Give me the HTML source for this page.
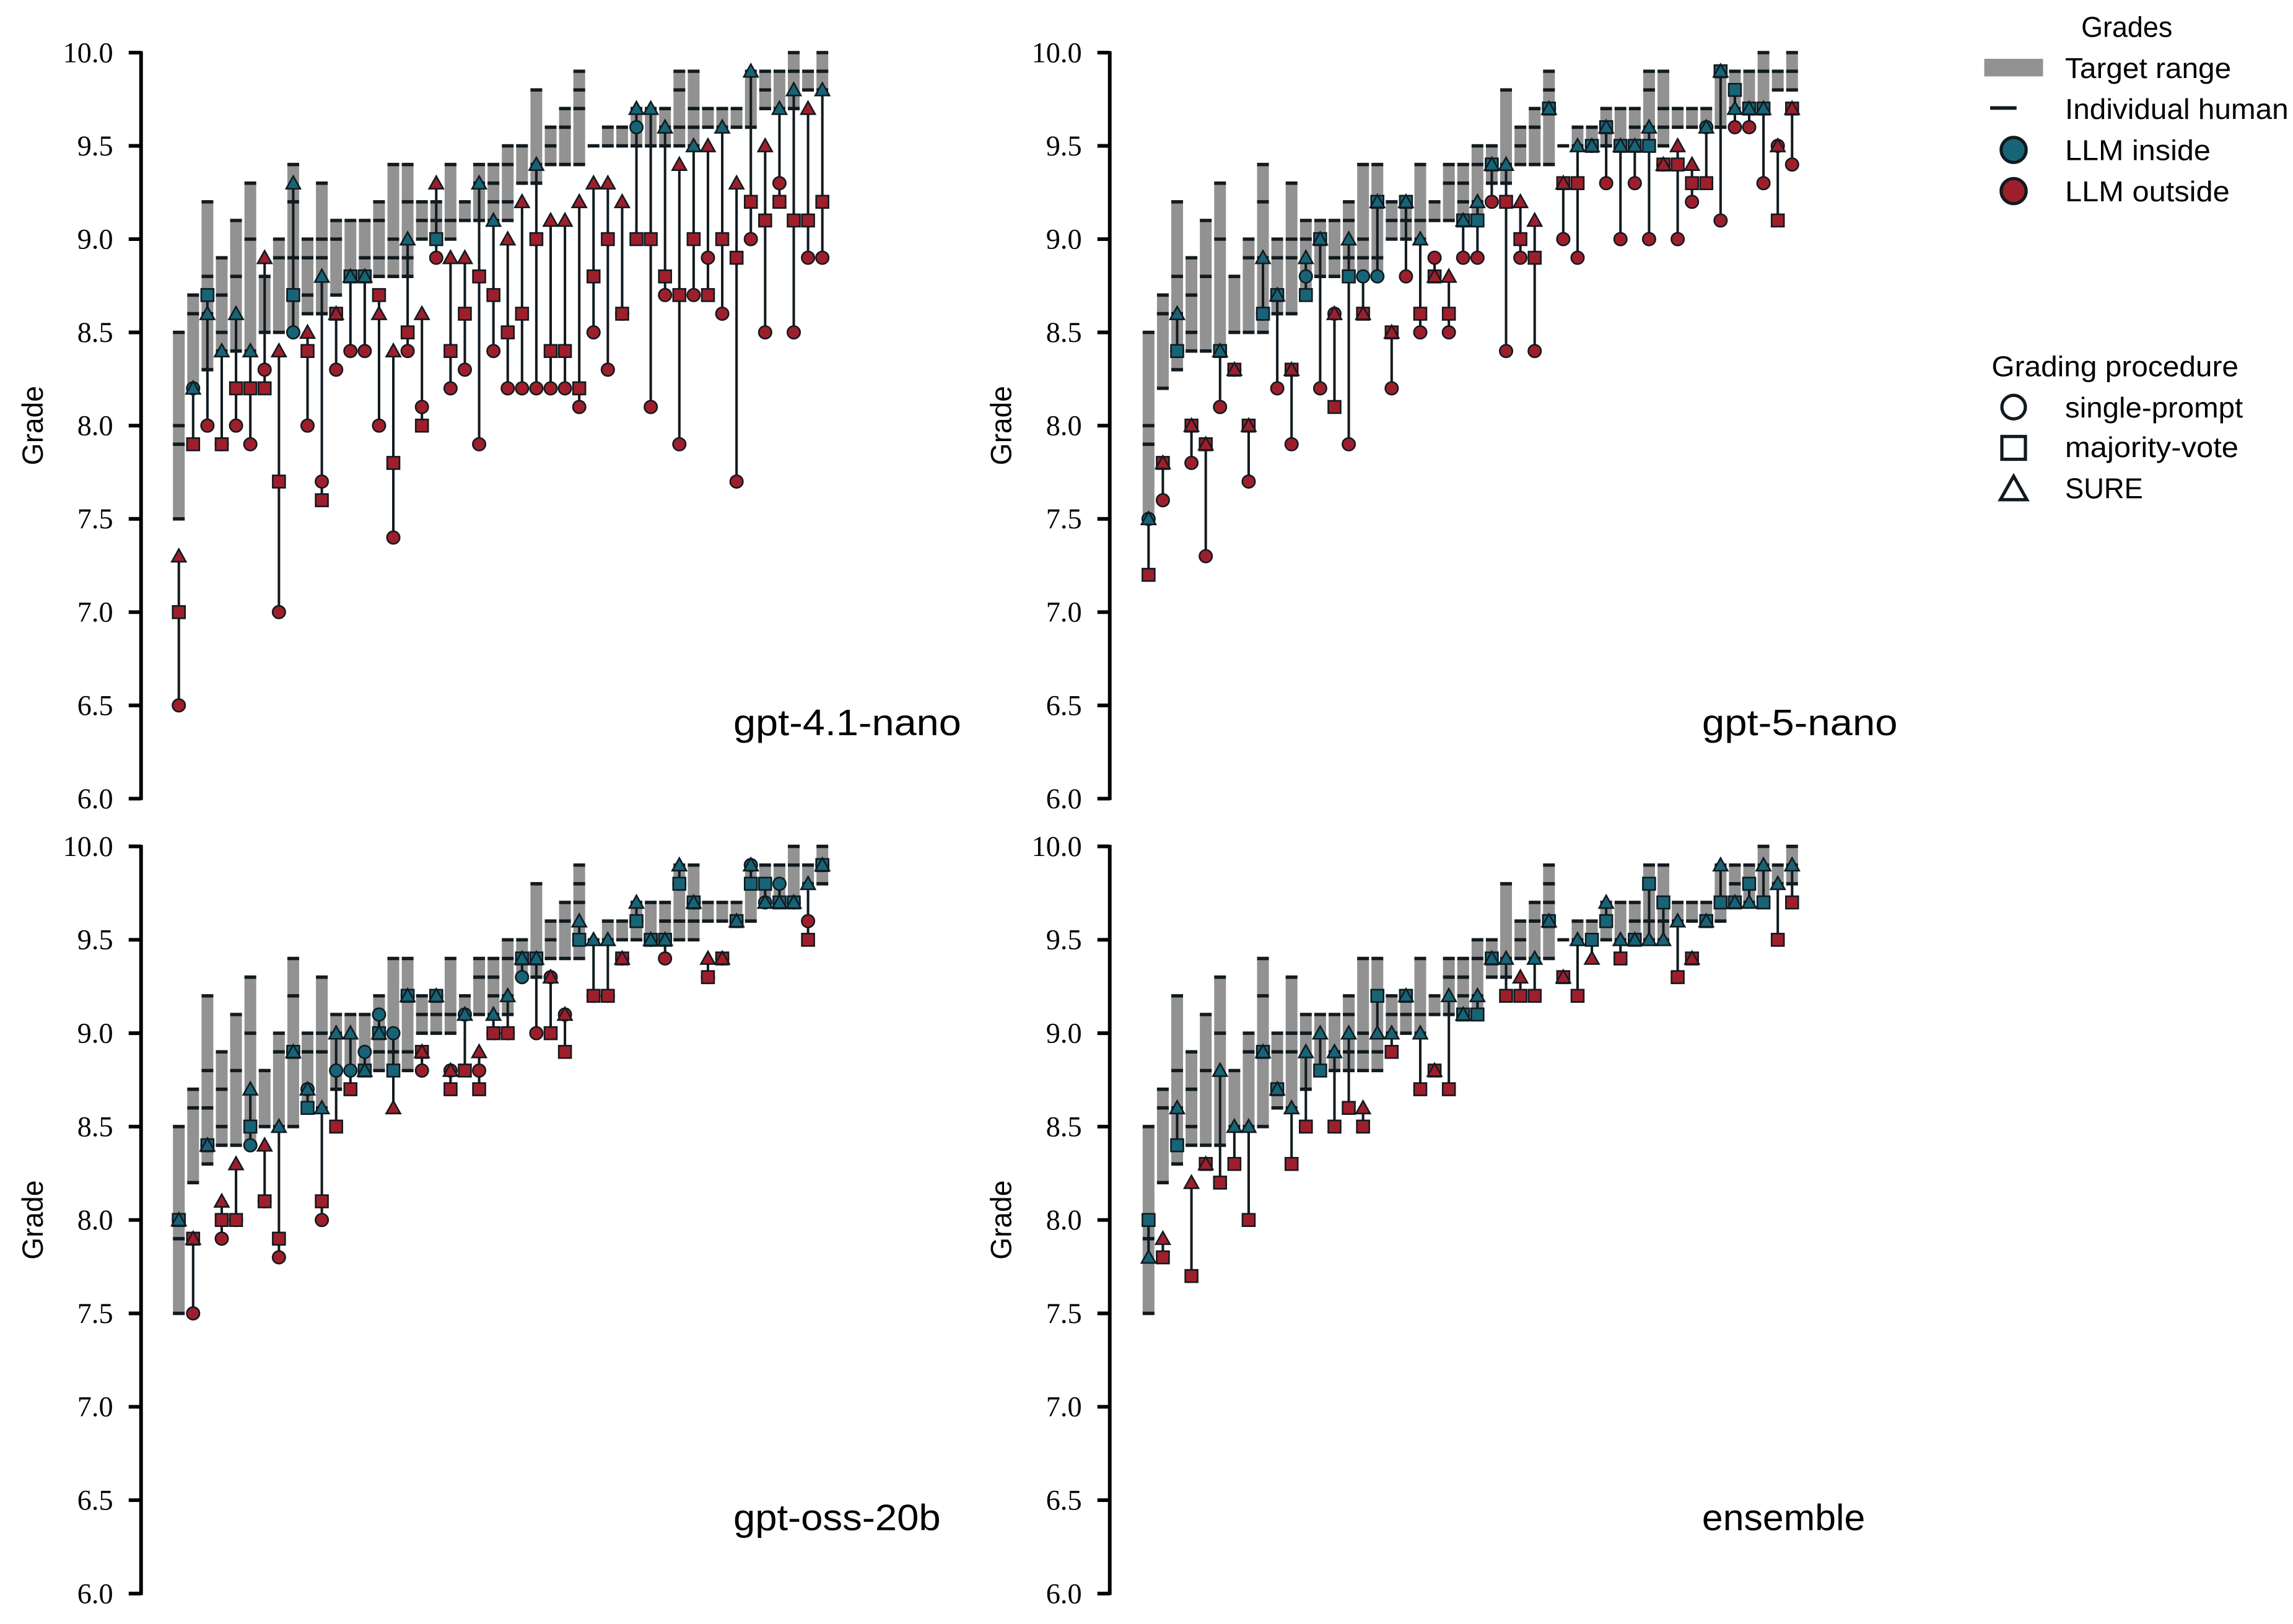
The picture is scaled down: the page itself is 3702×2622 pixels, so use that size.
<!DOCTYPE html>
<html><head><meta charset="utf-8"><title>LLM grades vs human target ranges</title>
<style>html,body{margin:0;padding:0;background:#fff}svg{display:block}</style></head>
<body>
<svg id="chart" xmlns="http://www.w3.org/2000/svg" width="3702" height="2622" viewBox="0 0 1560 1105">
<rect x="0" y="0" width="1560" height="1105" fill="#fff"/>
<g id="legend" font-family="'Liberation Sans', sans-serif" font-size="19.5" fill="#000">
  <text x="1447" y="25" text-anchor="middle" textLength="62" lengthAdjust="spacingAndGlyphs">Grades</text>
  <rect x="1350" y="40" width="40" height="12" fill="#929292"/>
  <text x="1405" y="53" textLength="113" lengthAdjust="spacingAndGlyphs">Target range</text>
  <line x1="1354" y1="73.5" x2="1372" y2="73.5" stroke="#111a1f" stroke-width="2.4"/>
  <text x="1405" y="81" textLength="152" lengthAdjust="spacingAndGlyphs">Individual human</text>
  <circle cx="1370" cy="102" r="8.5" fill="#176477" stroke="#111a1f" stroke-width="2.2"/>
  <text x="1405" y="109" textLength="99" lengthAdjust="spacingAndGlyphs">LLM inside</text>
  <circle cx="1370" cy="130" r="8.5" fill="#9e1f2b" stroke="#111a1f" stroke-width="2.2"/>
  <text x="1405" y="137" textLength="112" lengthAdjust="spacingAndGlyphs">LLM outside</text>
  <text x="1355" y="256" textLength="168" lengthAdjust="spacingAndGlyphs">Grading procedure</text>
  <circle cx="1370" cy="277" r="8" fill="none" stroke="#111a1f" stroke-width="2.2"/>
  <text x="1405" y="284" textLength="121" lengthAdjust="spacingAndGlyphs">single-prompt</text>
  <rect x="1362" y="297" width="16" height="15.5" fill="none" stroke="#111a1f" stroke-width="2.2"/>
  <text x="1405" y="311" textLength="118" lengthAdjust="spacingAndGlyphs">majority-vote</text>
  <polygon points="1370,324 1361,340 1379,340" fill="none" stroke="#111a1f" stroke-width="2.2"/>
  <text x="1405" y="339" textLength="53" lengthAdjust="spacingAndGlyphs">SURE</text>
</g>
</svg>
<script>
// ---- data ----
const humanGrades = [
 [8.5,8.0,7.9,7.5],[8.7,8.6,8.2],[9.2,8.8,8.6,8.3],[8.9,8.7,8.5,8.4],[9.1,8.8,8.4],
 [9.3,9.0,8.4],[8.8,8.5],[9.0,8.9,8.5],[9.4,9.2,8.9,8.5],[9.0,8.9,8.7,8.6],
 [9.3,9.0,8.9,8.6],[9.1,9.0,8.7],[9.1,8.8],[9.1,8.9,8.8],[9.2,9.1,8.9,8.8],
 [9.4,9.0,8.9,8.8],[9.4,9.2,8.9,8.8],[9.2,9.1,9.0],[9.2,9.1,9.0],[9.4,9.1,9.0],
 [9.2,9.1],[9.4,9.3,9.1],[9.4,9.3,9.2,9.1],[9.5,9.4,9.2,9.1],[9.5,9.3],
 [9.8,9.4,9.3],[9.6,9.5,9.4],[9.7,9.6,9.4],[9.9,9.8,9.7,9.4],[9.5],
 [9.6,9.5],[9.6,9.5],[9.7,9.6,9.5],[9.7,9.5],[9.7,9.6,9.5],
 [9.9,9.8,9.6,9.5],[9.9,9.7,9.6,9.5],[9.7,9.6],[9.7,9.6],[9.7,9.6],
 [9.9,9.6],[9.9,9.8,9.7],[9.9,9.7],[10.0,9.9,9.7],[9.9,9.8],[10.0,9.9,9.8]
];
const nano41Single   = [6.5,8.2,8.0,7.9,8.0,7.9,8.3,7.0,8.5,8.0,7.7,8.3,8.4,8.4,8.0,7.4,8.4,8.1,8.9,8.2,8.3,7.9,8.4,8.2,8.2,8.2,8.2,8.2,8.1,8.5,8.3,8.6,9.6,8.1,8.7,7.9,8.7,8.9,8.6,7.7,9.0,8.5,9.3,8.5,8.9,8.9];
const nano41Majority = [7.0,7.9,8.7,7.9,8.2,8.2,8.2,7.7,8.7,8.4,7.6,8.6,8.8,8.8,8.7,7.8,8.5,8.0,9.0,8.4,8.6,8.8,8.7,8.5,8.6,9.0,8.4,8.4,8.2,8.8,9.0,8.6,9.0,9.0,8.8,8.7,9.0,8.7,9.0,8.9,9.2,9.1,9.2,9.1,9.1,9.2];
const nano41Sure     = [7.3,8.2,8.6,8.4,8.6,8.4,8.9,8.4,9.3,8.5,8.8,8.6,8.8,8.8,8.6,8.4,9.0,8.6,9.3,8.9,8.9,9.3,9.1,9.0,9.2,9.4,9.1,9.1,9.2,9.3,9.3,9.2,9.7,9.7,9.6,9.4,9.5,9.5,9.6,9.3,9.9,9.5,9.7,9.8,9.7,9.8];
const nano5Single    = [7.5,7.6,8.4,7.8,7.3,8.1,8.3,7.7,8.6,8.2,7.9,8.8,8.2,8.6,7.9,8.8,8.8,8.2,8.8,8.5,8.9,8.5,8.9,8.9,9.2,8.4,8.9,8.4,9.7,9.0,8.9,9.5,9.3,9.0,9.3,9.0,9.4,9.0,9.2,9.6,9.1,9.6,9.6,9.3,9.5,9.4];
const nano5Majority  = [7.2,7.8,8.4,8.0,7.9,8.4,8.3,8.0,8.6,8.7,8.3,8.7,9.0,8.1,8.8,8.6,9.2,8.5,9.2,8.6,8.8,8.6,9.1,9.1,9.4,9.2,9.0,8.9,9.7,9.3,9.3,9.5,9.6,9.5,9.5,9.5,9.4,9.4,9.3,9.3,9.9,9.8,9.7,9.7,9.1,9.7];
const nano5Sure      = [7.5,7.8,8.6,8.0,7.9,8.4,8.3,8.0,8.9,8.7,8.3,8.9,9.0,8.6,9.0,8.6,9.2,8.5,9.2,9.0,8.8,8.8,9.1,9.2,9.4,9.4,9.2,9.1,9.7,9.3,9.5,9.5,9.6,9.5,9.5,9.6,9.4,9.5,9.4,9.6,9.9,9.7,9.7,9.7,9.5,9.7];
const ossSingle      = [8.0,7.5,8.4,7.9,8.0,8.4,8.1,7.8,8.9,8.7,8.0,8.8,8.8,8.9,9.1,9.0,9.2,8.8,9.2,8.8,9.1,8.8,9.0,9.0,9.3,9.0,9.3,9.1,9.5,9.2,9.2,9.4,9.6,9.5,9.4,9.8,9.7,9.3,9.4,9.6,9.9,9.7,9.8,9.7,9.6,9.9];
const ossMajority    = [8.0,7.9,8.4,8.0,8.0,8.5,8.1,7.9,8.9,8.6,8.1,8.5,8.7,8.8,9.0,8.8,9.2,8.9,9.2,8.7,8.8,8.7,9.0,9.0,9.4,9.4,9.0,8.9,9.5,9.2,9.2,9.4,9.6,9.5,9.5,9.8,9.7,9.3,9.4,9.6,9.8,9.8,9.7,9.7,9.5,9.9];
const ossSure        = [8.0,7.9,8.4,8.1,8.3,8.7,8.4,8.5,8.9,8.7,8.6,9.0,9.0,8.8,9.0,8.6,9.2,8.9,9.2,8.8,9.1,8.9,9.1,9.2,9.4,9.4,9.3,9.1,9.6,9.5,9.5,9.4,9.7,9.5,9.5,9.9,9.7,9.4,9.4,9.6,9.9,9.7,9.7,9.7,9.8,9.9];
const ensSingle      = [];
const ensMajority    = [8.0,7.8,8.4,7.7,8.3,8.2,8.3,8.0,8.9,8.7,8.3,8.5,8.8,8.5,8.6,8.5,9.2,8.9,9.2,8.7,8.8,8.7,9.1,9.1,9.4,9.2,9.2,9.2,9.6,9.3,9.2,9.5,9.6,9.4,9.5,9.8,9.7,9.3,9.4,9.6,9.7,9.7,9.8,9.7,9.5,9.7];
const ensSure        = [7.8,7.9,8.6,8.2,8.3,8.8,8.5,8.5,8.9,8.7,8.6,8.9,9.0,8.9,9.0,8.6,9.0,9.0,9.2,9.0,8.8,9.2,9.1,9.2,9.4,9.4,9.3,9.4,9.6,9.3,9.5,9.4,9.7,9.5,9.5,9.5,9.5,9.6,9.4,9.6,9.9,9.7,9.7,9.9,9.8,9.9];
const panelTitles = ["gpt-4.1-nano","gpt-5-nano","gpt-oss-20b","ensemble"];
const yTickLabels = ["6.0","6.5","7.0","7.5","8.0","8.5","9.0","9.5","10.0"];

// ---- drawing ----
const NS = "http://www.w3.org/2000/svg";
const svg = document.getElementById('chart');
const TEAL = "#176477", RED = "#9e1f2b", EDGE = "#111a1f", GRAY = "#929292";
function mk(tag, attrs, parent){ const e=document.createElementNS(NS,tag); for(const k in attrs) e.setAttribute(k,attrs[k]); (parent||svg).appendChild(e); return e; }

const panels = [
 {spine:95.9, x0:121.6, top:35.8, unit:126.9, title:panelTitles[0], tw:155, s:nano41Single, m:nano41Majority, t:nano41Sure, key:'gpt-4-1-nano'},
 {spine:755, x0:781.4, top:35.8, unit:126.9, title:panelTitles[1], tw:133, s:nano5Single, m:nano5Majority, t:nano5Sure, key:'gpt-5-nano'},
 {spine:95.9, x0:121.6, top:575.9, unit:127.1, title:panelTitles[2], tw:141, s:ossSingle, m:ossMajority, t:ossSure, key:'gpt-oss-20b'},
 {spine:755, x0:781.4, top:575.9, unit:127.1, title:panelTitles[3], tw:111, s:ensSingle, m:ensMajority, t:ensSure, key:'ensemble'}
];
const STEP = 9.73;

panels.forEach((p)=>{
  const g = mk('g',{});
  
  
  const y = v => p.top + (10 - v) * p.unit;
  const x = i => p.x0 + i * STEP;
  const ax = mk('g',{}, g);
  
  
  const spine = mk('line',{x1:p.spine,y1:y(10)-1,x2:p.spine,y2:y(6)+1,stroke:'#000','stroke-width':2.5}, ax);
  
  
  yTickLabels.forEach(lbl=>{
    const v = parseFloat(lbl);
    const tk = mk('line',{x1:p.spine-8.4,y1:y(v),x2:p.spine,y2:y(v),stroke:'#000','stroke-width':2.5}, ax);
    
    
    const tl = mk('text',{x:p.spine-19,y:y(v)+6.5,'text-anchor':'end','font-family':"'Liberation Serif', serif",'font-size':19.5,fill:'#000'}, ax);
    tl.textContent = lbl;
    
    
  });
  const yl = mk('text',{x:0,y:0,transform:`translate(${p.spine-67},${y(8)}) rotate(-90)`,'text-anchor':'middle','font-family':"'Liberation Sans', sans-serif",'font-size':20,fill:'#000',textLength:54,lengthAdjust:'spacingAndGlyphs'}, ax);
  yl.textContent = 'Grade';
  
  
  const tt = mk('text',{x:p.spine+403,y:y(6.34),'font-family':"'Liberation Sans', sans-serif",'font-size':25,fill:'#000',textLength:p.tw,lengthAdjust:'spacingAndGlyphs'}, g);
  tt.textContent = p.title;
  
  

  humanGrades.forEach((hs,i)=>{
    const lo = Math.min(...hs), hi = Math.max(...hs);
    const r = mk('rect',{x:x(i)-4,y:y(hi),width:8,height:Math.max(y(lo)-y(hi),0.01),fill:GRAY}, g);
    
    
    hs.forEach(h=>{
      const l = mk('line',{x1:x(i)-4,y1:y(h),x2:x(i)+4,y2:y(h),stroke:EDGE,'stroke-width':2.3}, g);
      
      
    });
  });
  humanGrades.forEach((hs,i)=>{
    const lo = Math.min(...hs), hi = Math.max(...hs);
    const vals = [p.s[i], p.m[i], p.t[i]].filter(v=>v!==undefined && v!==null);
    if(!vals.length) return;
    const mn = Math.min(...vals), mx = Math.max(...vals);
    if(mx>mn){
      const st = mk('line',{x1:x(i),y1:y(mx),x2:x(i),y2:y(mn),stroke:EDGE,'stroke-width':1.7}, g);
      
      
    }
    const col = v => (v >= lo-1e-9 && v <= hi+1e-9) ? TEAL : RED;
    const cx = x(i);
    if(p.s[i]!==undefined && p.s[i]!==null){
      const c = mk('circle',{cx:cx,cy:y(p.s[i]),r:4.3,fill:col(p.s[i]),stroke:EDGE,'stroke-width':1.1}, g);
      
      
    }
    if(p.m[i]!==undefined && p.m[i]!==null){
      const cy = y(p.m[i]);
      const q = mk('rect',{x:cx-4.2,y:cy-4.2,width:8.4,height:8.4,fill:col(p.m[i]),stroke:EDGE,'stroke-width':1.1}, g);
      
      
    }
    if(p.t[i]!==undefined && p.t[i]!==null){
      const cy = y(p.t[i]);
      const tr = mk('polygon',{points:`${cx},${cy-4.8} ${cx-4.8},${cy+3.8} ${cx+4.8},${cy+3.8}`,fill:col(p.t[i]),stroke:EDGE,'stroke-width':1.1}, g);
      
      
    }
  });
});
</script>
</body></html>
